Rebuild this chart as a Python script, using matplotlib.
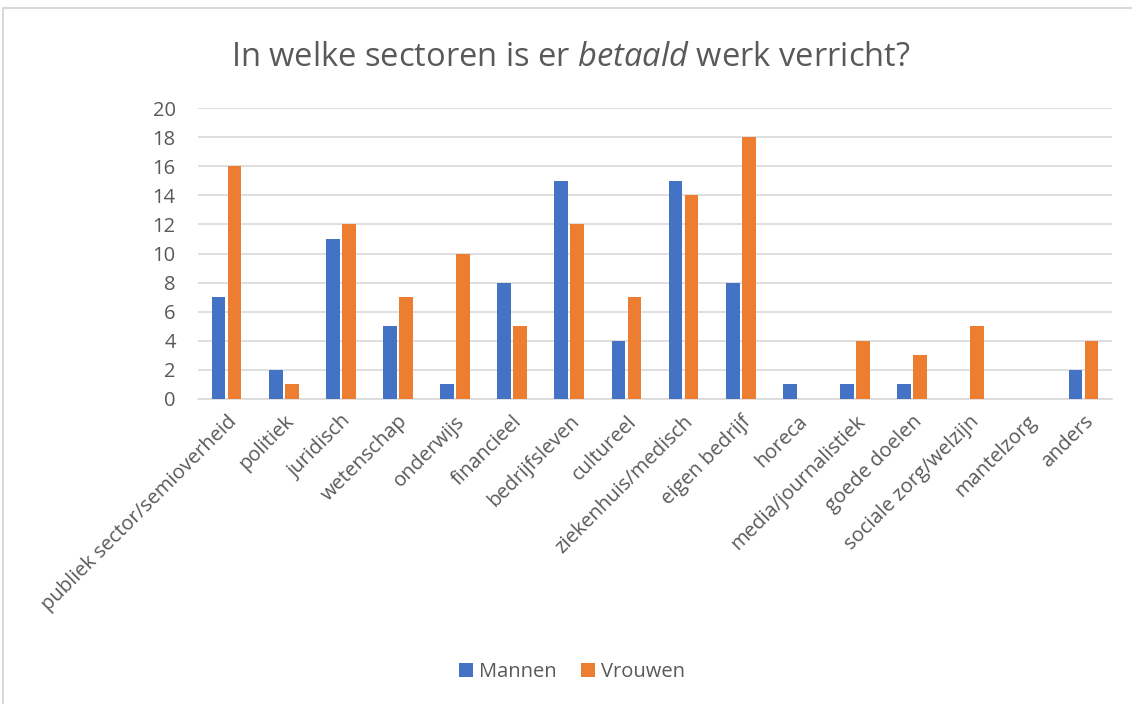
import matplotlib
matplotlib.use("Agg")
from matplotlib import pyplot as plt
from matplotlib.patches import Rectangle
import numpy as np

categories = ["publiek sector/semioverheid", "politiek", "juridisch", "wetenschap",
              "onderwijs", "financieel", "bedrijfsleven", "cultureel",
              "ziekenhuis/medisch", "eigen bedrijf", "horeca", "media/journalistiek",
              "goede doelen", "sociale zorg/welzijn", "mantelzorg", "anders"]
mannen = [7, 2, 11, 5, 1, 8, 15, 4, 15, 8, 1, 1, 1, 0, 0, 2]
vrouwen = [16, 1, 12, 7, 10, 5, 12, 7, 14, 18, 0, 4, 3, 5, 0, 4]

plt.rcParams['font.family'] = ['Open Sans', 'DejaVu Sans']
plt.rcParams['mathtext.fontset'] = 'custom'
plt.rcParams['mathtext.rm'] = 'Open Sans'
plt.rcParams['mathtext.it'] = 'Open Sans:italic'

grey = "#595959"
fig = plt.figure(figsize=(11.32, 7.04), dpi=100)
fig.patches.append(Rectangle((3 / 1132, -0.1), 1.2, (1 - 8 / 704) + 0.1,
                             transform=fig.transFigure, fill=False,
                             edgecolor="#d9d9d9", linewidth=1.5))

ax = fig.add_axes([198 / 1132, 1 - 399 / 704, (1112 - 198) / 1132, (399 - 108) / 704])
x = np.arange(len(categories))
w = 0.24
ax.bar(x - 0.14, mannen, width=w, color="#4472C4", label="Mannen", zorder=3)
ax.bar(x + 0.14, vrouwen, width=w, color="#ED7D31", label="Vrouwen", zorder=3)

ax.set_xlim(-0.5, len(categories) - 0.5)
ax.set_ylim(0, 20)
ax.set_yticks(np.arange(0, 21, 2))
ax.set_xticks(x)
ax.set_xticklabels(categories, rotation=45, ha="right", rotation_mode="anchor")
ax.tick_params(length=0, labelsize=14.5, colors=grey, pad=9)
ax.tick_params(axis="y", pad=16)
ax.grid(axis="y", color="#d9d9d9", linewidth=1.2, zorder=0)
for s in ["top", "right", "left"]:
    ax.spines[s].set_visible(False)
ax.spines["bottom"].set_color("#d9d9d9")
ax.spines["bottom"].set_linewidth(1.2)

fig.text(0.504, 1 - 57 / 704, r"In welke sectoren is er $\mathit{betaald}$ werk verricht?",
         ha="center", va="center", fontsize=23.5, color=grey)

fig.legend(loc="center", bbox_to_anchor=(0.505, 1 - 672 / 704), ncol=2, frameon=False,
           fontsize=14.5, handlelength=0.7, handleheight=0.7, handletextpad=0.3,
           columnspacing=1.2, labelcolor=grey)

fig.savefig("out.png", dpi=100)
